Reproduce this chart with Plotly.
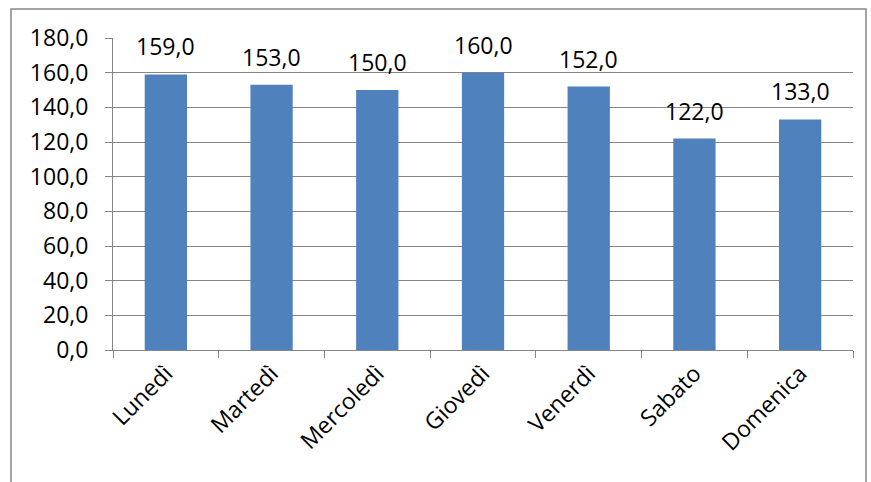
import plotly.graph_objects as go

days = ["Lunedì", "Martedì", "Mercoledì", "Giovedì", "Venerdì", "Sabato", "Domenica"]
values = [159.0, 153.0, 150.0, 160.0, 152.0, 122.0, 133.0]
y_ticks = [0, 20, 40, 60, 80, 100, 120, 140, 160, 180]

def it_fmt(v):
    return f"{v:.1f}".replace(".", ",")

FONT = "Open Sans, Liberation Sans, sans-serif"
FS = 23
W, H = 871, 482
L, R, T, B = 113, 18, 38, 132
pw, ph = W - L - R, H - T - B

fig = go.Figure(go.Bar(
    x=days, y=values,
    marker=dict(color="#4F81BD", line=dict(width=0)),
    width=0.4,
))

annotations = [
    dict(x=d, y=v, xref="x", yref="y", text=it_fmt(v), showarrow=False,
         yanchor="bottom", yshift=10,
         font=dict(family=FONT, size=FS, color="#000000"))
    for d, v in zip(days, values)
]

fig.update_layout(
    width=W, height=H,
    margin=dict(l=L, r=R, t=T, b=B),
    paper_bgcolor="white", plot_bgcolor="white",
    showlegend=False,
    font=dict(family=FONT, size=FS, color="#000000"),
    annotations=annotations,
    xaxis=dict(
        tickangle=-45,
        showline=True, linecolor="#868686", linewidth=1,
        ticks="outside", ticklen=7, tickcolor="#868686",
        tickson="boundaries",
        showgrid=False,
        tickfont=dict(family=FONT, size=FS),
    ),
    yaxis=dict(
        range=[0, 180],
        tickvals=y_ticks,
        ticktext=[it_fmt(v) for v in y_ticks],
        showgrid=True, gridcolor="#868686", gridwidth=1,
        showline=True, linecolor="#868686", linewidth=1,
        ticks="outside", ticklen=7, tickcolor="#868686",
        ticklabelstandoff=12,
        zeroline=False,
        tickfont=dict(family=FONT, size=FS),
    ),
    shapes=[dict(
        type="rect", xref="paper", yref="paper",
        x0=(11 - L) / pw, x1=(866 - L) / pw,
        y0=(H - 490 - B) / ph, y1=(H - 9 - B) / ph,
        line=dict(color="#868686", width=1.5),
        fillcolor="rgba(0,0,0,0)", layer="below",
    )],
)

fig.write_html("out.html")
